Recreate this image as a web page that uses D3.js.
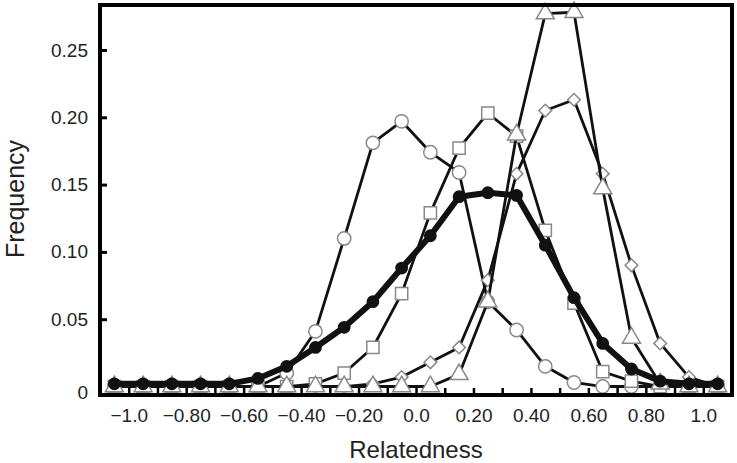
<!DOCTYPE html>
<html>
<head>
<meta charset="utf-8">
<script src="https://cdn.jsdelivr.net/npm/d3@7"></script>
<style>
  body { margin: 0; background: #fff; }
  text { font-family: "Liberation Sans", Arial, Helvetica, sans-serif; fill: #222; }
</style>
</head>
<body>
<div id="chart"></div>
<script>
var svgwidth = 737;
var svgheight = 463;

// bin centres on the relatedness axis
var bins = [-1.05, -0.95, -0.85, -0.75, -0.65, -0.55, -0.45, -0.35, -0.25, -0.15, -0.05,
            0.05, 0.15, 0.25, 0.35, 0.45, 0.55, 0.65, 0.75, 0.85, 0.95, 1.05];

// frequency series, one per marker
var filledCircle = [0.002, 0.002, 0.002, 0.002, 0.002, 0.006, 0.015, 0.029, 0.044, 0.063, 0.088,
                    0.112, 0.141, 0.144, 0.142, 0.105, 0.066, 0.032, 0.013, 0.004, 0.002, 0.002];
var openCircle = [0, 0, 0, 0, 0, 0, 0.010, 0.041, 0.110, 0.181, 0.197,
                  0.174, 0.159, 0.063, 0.042, 0.015, 0.003, 0, 0, 0, 0, 0];
var openSquare = [0, 0, 0, 0, 0, 0, 0, 0.002, 0.010, 0.029, 0.069,
                  0.129, 0.177, 0.203, 0.186, 0.116, 0.062, 0.011, 0.004, 0, 0, 0];
var openDiamond = [0, 0, 0, 0, 0, 0, 0, 0, 0, 0.002, 0.007,
                   0.018, 0.029, 0.079, 0.158, 0.205, 0.213, 0.158, 0.090, 0.032, 0.007, 0];
var openTriangle = [0, 0, 0, 0, 0, 0, 0, 0, 0, 0, 0,
                    0, 0.009, 0.063, 0.187, 0.277, 0.278, 0.147, 0.036, 0.002, 0, 0];

var xTickValues = [-1.0, -0.9, -0.8, -0.7, -0.6, -0.5, -0.4, -0.3, -0.2, -0.1, 0.0,
                   0.1, 0.2, 0.3, 0.4, 0.5, 0.6, 0.7, 0.8, 0.9, 1.0];
var xLabelValues = [-1.0, -0.8, -0.6, -0.4, -0.2, 0.0, 0.2, 0.4, 0.6, 0.8, 1.0];
var xLabels = ["\u22121.0", "\u22120.80", "\u22120.60", "\u22120.40", "\u22120.20", "0.0",
               "0.20", "0.40", "0.60", "0.80", "1.0"];
var yTickValues = [0.05, 0.10, 0.15, 0.20, 0.25];
var yLabels = ["0.05", "0.10", "0.15", "0.20", "0.25"];

var plotLeft = 100, plotRight = 732, plotTop = 5, plotBottom = 395;

var svg = d3.select("#chart")
  .append("svg")
  .attr("width", svgwidth)
  .attr("height", svgheight);

var xscale = d3.scaleLinear().domain([-1.1, 1.1]).range([plotLeft, plotRight]);
var yscale = d3.scaleLinear().domain([-0.0063, 0.2834]).range([plotBottom, plotTop]);

// bottom axis: small inward ticks every 0.1
var xTicks = svg.append("g")
  .attr("transform", "translate(0," + plotBottom + ")")
  .call(d3.axisBottom(xscale).tickValues(xTickValues).tickSizeInner(-7).tickSizeOuter(0).tickFormat(""));
xTicks.select(".domain").remove();
xTicks.selectAll("line").attr("stroke", "#000").attr("stroke-width", 2.5);

// bottom labels every 0.2
var xLab = svg.append("g")
  .attr("transform", "translate(0," + plotBottom + ")")
  .call(d3.axisBottom(xscale).tickValues(xLabelValues).tickSize(0).tickPadding(14)
    .tickFormat(function (d, i) { return xLabels[i]; }));
xLab.select(".domain").remove();
xLab.selectAll("text").style("font-size", "19px").style("font-family", null).attr("fill", "#222");

// left axis
var yAx = svg.append("g")
  .attr("transform", "translate(" + plotLeft + ",0)")
  .call(d3.axisLeft(yscale).tickValues(yTickValues).tickSizeInner(-7).tickSizeOuter(0).tickPadding(12)
    .tickFormat(function (d, i) { return yLabels[i]; }));
yAx.select(".domain").remove();
yAx.selectAll("line").attr("stroke", "#000").attr("stroke-width", 3);
yAx.selectAll("text").style("font-size", "19px").style("font-family", null).attr("fill", "#222");

svg.append("text")
  .attr("x", plotLeft - 12)
  .attr("y", yscale(0) + 6)
  .attr("dy", "0.32em")
  .style("text-anchor", "end")
  .style("font-size", "19px")
  .text("0");

// axis titles
svg.append("text")
  .attr("transform", "translate(24," + 199 + ") rotate(-90)")
  .style("text-anchor", "middle")
  .style("font-size", "25px")
  .text("Frequency");

svg.append("text")
  .attr("x", (plotLeft + plotRight) / 2)
  .attr("y", 458)
  .style("text-anchor", "middle")
  .style("font-size", "24px")
  .text("Relatedness");

// series
var series = [
  { name: "circle", values: openCircle },
  { name: "square", values: openSquare },
  { name: "diamond", values: openDiamond },
  { name: "triangle", values: openTriangle },
  { name: "filled", values: filledCircle }
];

var line = d3.line()
  .x(function (d) { return xscale(d.x); })
  .y(function (d) { return yscale(d.y); });

var shapes = {
  circle: d3.symbol().type(d3.symbolCircle).size(140),
  square: d3.symbol().type(d3.symbolSquare).size(150),
  diamond: d3.symbol().type(d3.symbolSquare).size(80),
  triangle: d3.symbol().type(d3.symbolTriangle).size(140),
  filled: d3.symbol().type(d3.symbolCircle).size(100)
};

series.forEach(function (s) {
  var pts = bins.map(function (b, i) { return { x: b, y: s.values[i] }; });
  var filled = s.name === "filled";
  var g = svg.append("g");
  g.append("path")
    .datum(pts)
    .attr("d", line)
    .attr("fill", "none")
    .attr("stroke", "#111")
    .attr("stroke-width", filled ? 6 : 2.8)
    .attr("stroke-linejoin", "round");
  g.selectAll("path.mark")
    .data(pts)
    .join("path")
    .attr("class", "mark")
    .attr("transform", function (d) {
      return "translate(" + xscale(d.x) + "," + yscale(d.y) + ")" + (s.name === "diamond" ? " rotate(45)" : "");
    })
    .attr("d", shapes[s.name])
    .attr("fill", filled ? "#111" : "#fff")
    .attr("stroke", filled ? "#111" : "#888")
    .attr("stroke-width", 1.5);
});

// frame
svg.append("rect")
  .attr("x", plotLeft)
  .attr("y", plotTop)
  .attr("width", plotRight - plotLeft)
  .attr("height", plotBottom - plotTop)
  .attr("fill", "none")
  .attr("stroke", "#000")
  .attr("stroke-width", 4);
</script>
</body>
</html>
